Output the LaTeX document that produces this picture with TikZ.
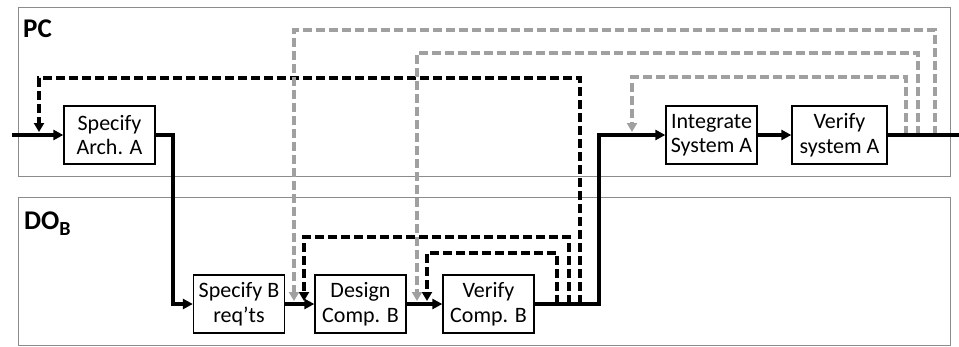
\documentclass[tikz,border=0pt]{standalone}
\usepackage{fontspec}
\setmainfont{Carlito}
\usetikzlibrary{arrows.meta}
\definecolor{fbgray}{HTML}{A0A0A0}
\tikzset{
  panel/.style={draw=black!45, line width=0.8pt},
  procbox/.style={draw=black, line width=1.3pt, minimum width=91pt, minimum height=58pt,
    inner sep=0pt, align=center, font=\fontsize{22}{24.5}\selectfont},
  flow/.style={line width=3.2pt, line join=miter},
  flowarrow/.style={flow, -{Triangle[length=10pt,width=10pt]}},
  fbblack/.style={line width=3.2pt, dash pattern=on 9pt off 4pt, -{Triangle[length=9pt,width=10pt]}},
  fbgrey/.style={line width=3.2pt, draw=fbgray, dash pattern=on 9pt off 4pt, -{Triangle[length=9pt,width=10pt,fill=fbgray]}},
  lbl/.style={font=\fontsize{27}{27}\selectfont\bfseries, anchor=base west, inner sep=0pt}
}
\begin{document}
\begin{tikzpicture}[x=1pt,y=-1pt]
\useasboundingbox (0,0) rectangle (959,346);
% panels
\draw[panel] (18,7) rectangle (950,176);
\draw[panel] (18,197) rectangle (950,345);
\node[lbl] (pclbl) at (23,37) {PC};
\node[lbl] (dolbl) at (24,229) {DO\raisebox{-6pt}{\fontsize{20}{20}\selectfont B}};
% boxes
\node[procbox] (sa) at (109.5,135) {Specify\\Arch. A};
\node[procbox] (sb) at (239,304) {Specify B\\req’ts};
\node[procbox] (dc) at (360.5,304) {Design\\Comp. B};
\node[procbox] (vc) at (488.5,304) {Verify\\Comp. B};
\node[procbox] (is) at (711.5,135) {Integrate\\System A};
\node[procbox, minimum width=95pt] (vs) at (839.5,135) {Verify\\system A};
% coordinates
\coordinate (in) at (12,135);
\coordinate (out) at (959,135);
\coordinate (c1) at (173,0);
\coordinate (c2) at (599,0);
% feedback coordinates
\coordinate (b1s) at (580,304); \coordinate (b1a) at (580,78);  \coordinate (b1b) at (39,78);  \coordinate (b1e) at (39,132);
\coordinate (b2s) at (569,304); \coordinate (b2a) at (569,237); \coordinate (b2b) at (304,237); \coordinate (b2e) at (304,301);
\coordinate (b3s) at (557,304); \coordinate (b3a) at (557,253); \coordinate (b3b) at (427,253); \coordinate (b3e) at (427,301);
\coordinate (g1s) at (935,135); \coordinate (g1a) at (935,30);  \coordinate (g1b) at (294,30);  \coordinate (g1e) at (294,301);
\coordinate (g2s) at (918,135); \coordinate (g2a) at (918,53);  \coordinate (g2b) at (417,53);  \coordinate (g2e) at (417,301);
\coordinate (g3s) at (906,135); \coordinate (g3a) at (906,77);  \coordinate (g3b) at (632,77);  \coordinate (g3e) at (632,132);
% feedback loops
\draw[fbblack] (b1s) -- (b1a) -- (b1b) -- (b1e);
\draw[fbblack] (b2s) -- (b2a) -- (b2b) -- (b2e);
\draw[fbblack] (b3s) -- (b3a) -- (b3b) -- (b3e);
\draw[fbgrey] (g1s) -- (g1a) -- (g1b) -- (g1e);
\draw[fbgrey] (g2s) -- (g2a) -- (g2b) -- (g2e);
\draw[fbgrey] (g3s) -- (g3a) -- (g3b) -- (g3e);
% main flow
\draw[flowarrow] (in) -- (sa.west);
\draw[flowarrow] (sa.east) -- (sa.east -| c1) -- (c1 |- sb.west) -- (sb.west);
\draw[flowarrow] (sb.east) -- (dc.west);
\draw[flowarrow] (dc.east) -- (vc.west);
\draw[flowarrow] (vc.east) -- (vc.east -| c2) -- (c2 |- is.west) -- (is.west);
\draw[flowarrow] (is.east) -- (vs.west);
\draw[flow] (vs.east) -- (out);
\end{tikzpicture}
\end{document}
